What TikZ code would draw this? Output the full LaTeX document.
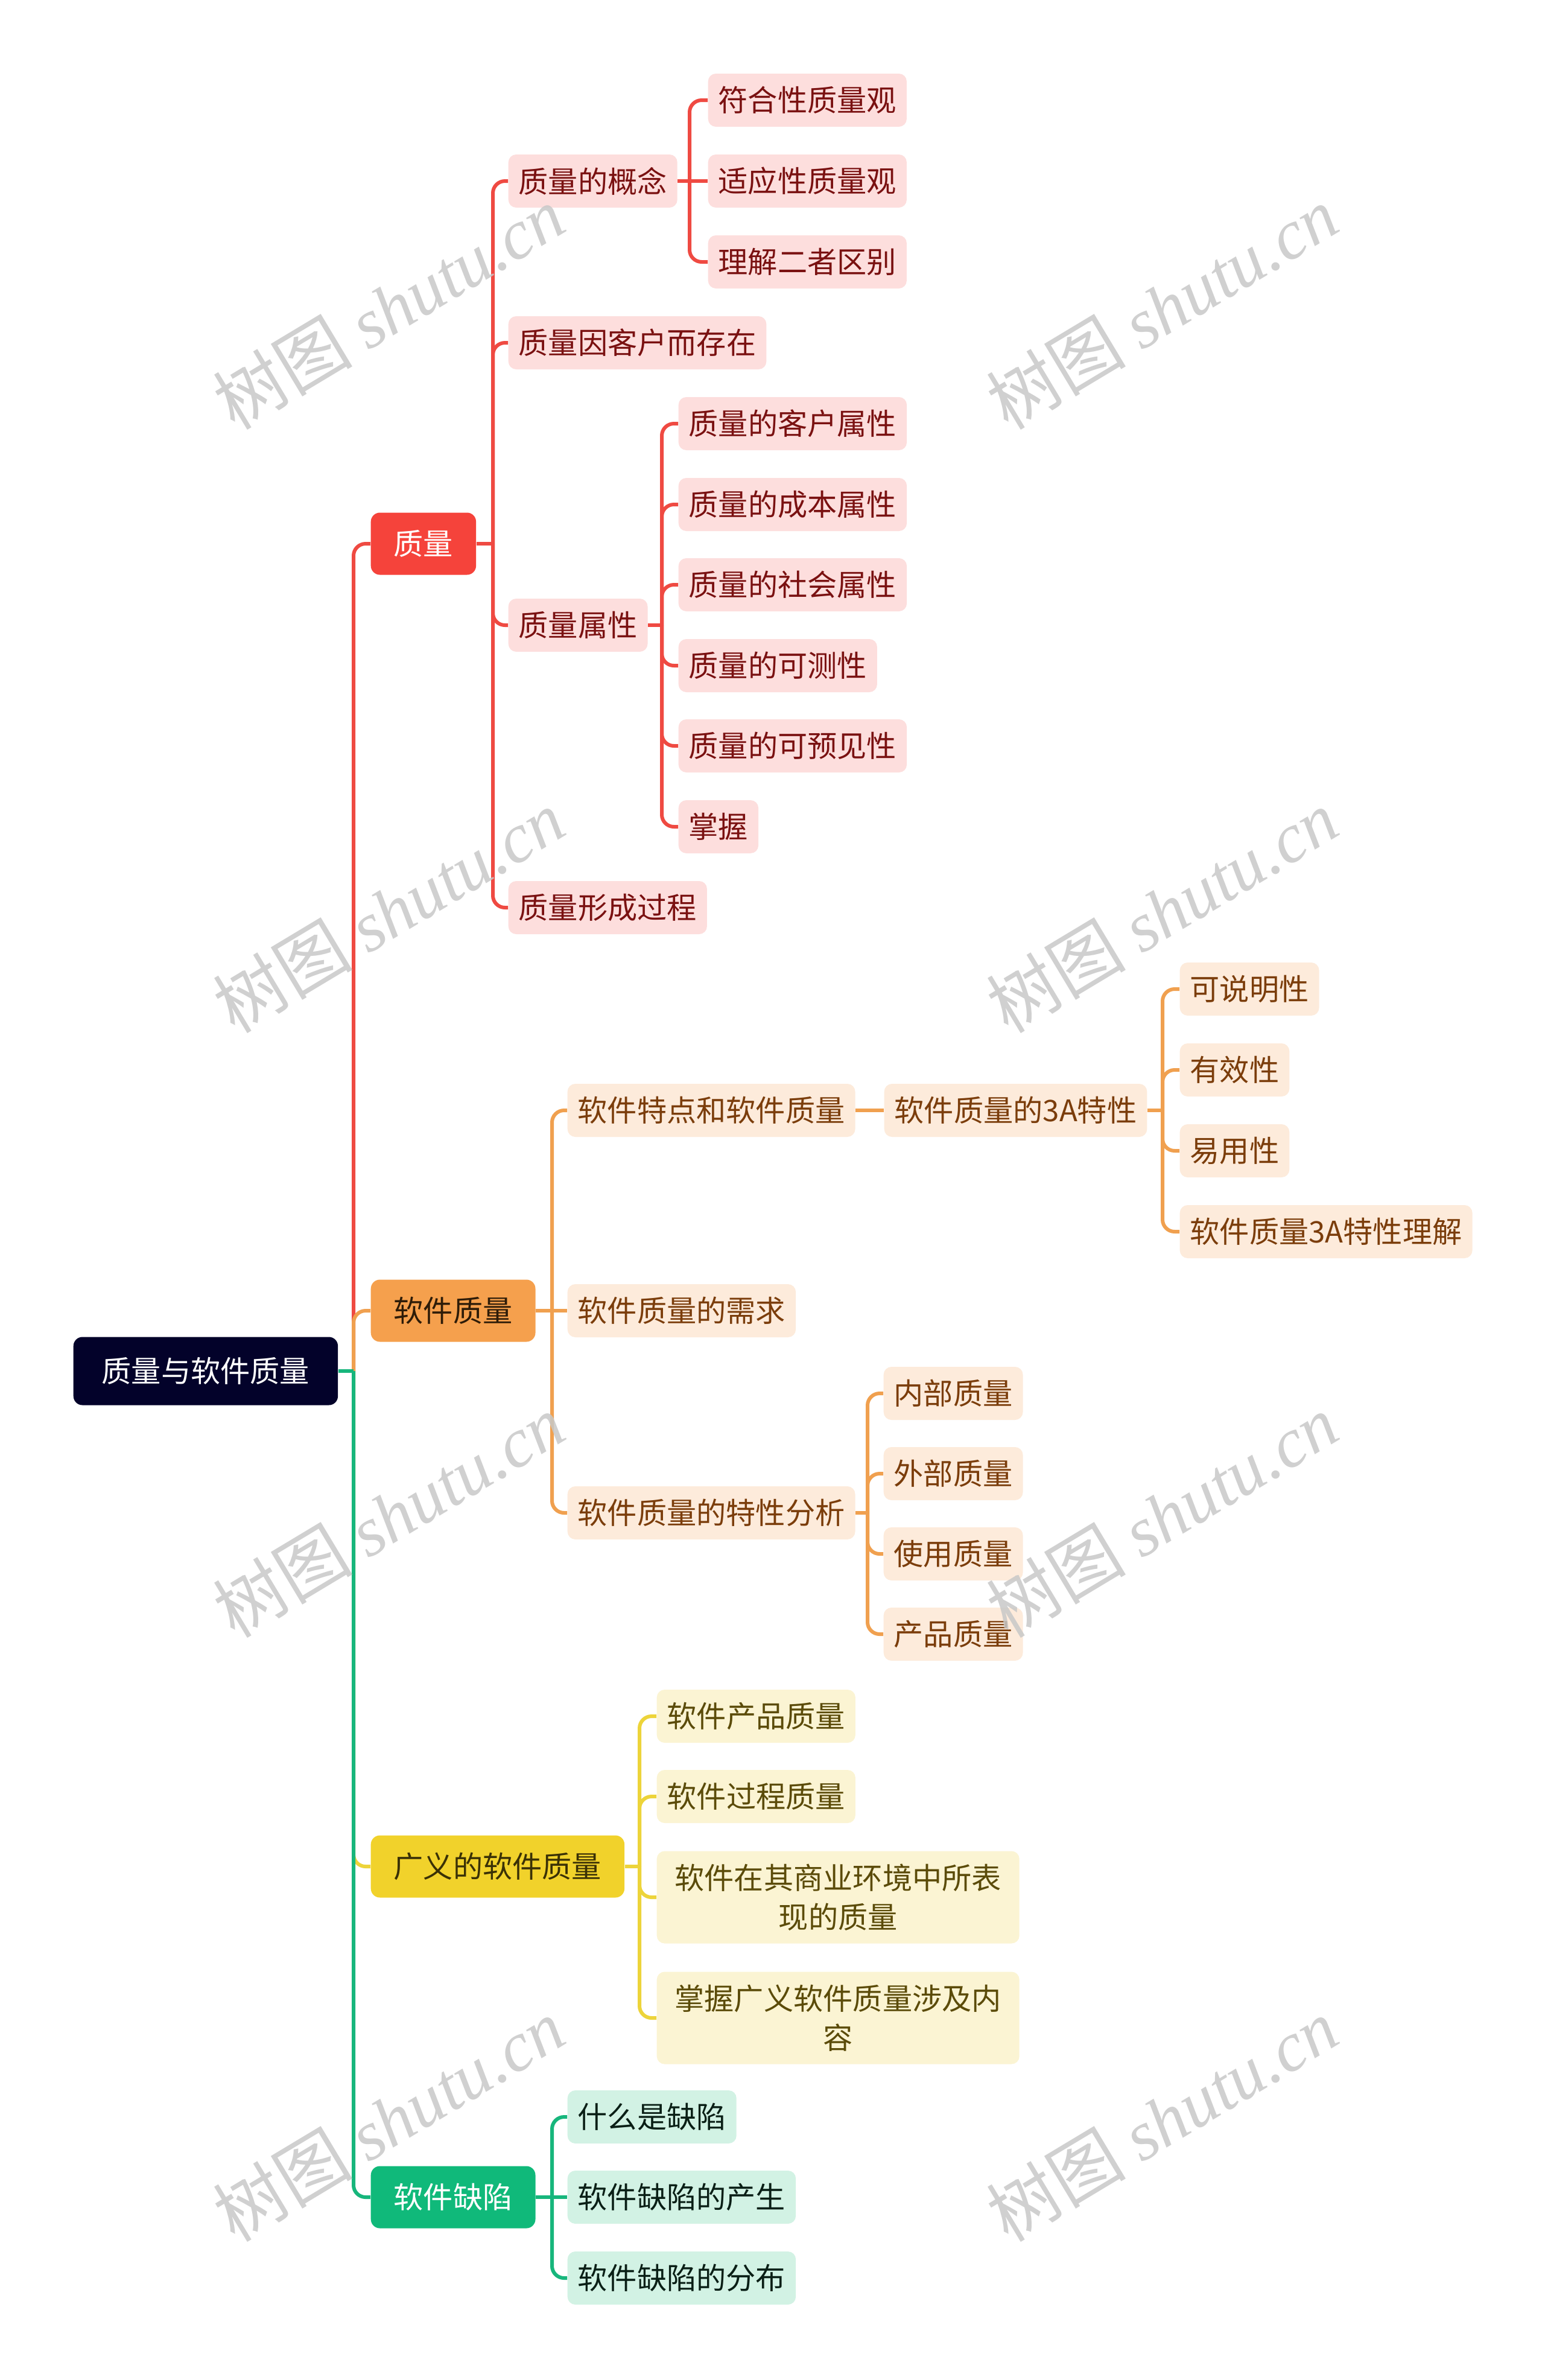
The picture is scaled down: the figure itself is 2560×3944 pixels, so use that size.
\documentclass[tikz,border=0pt]{standalone}
\usepackage{fontspec}
\setmainfont{Noto Sans CJK SC}
\newfontfamily\wmcjk{Noto Sans CJK SC}
\newfontfamily\wmlat{Liberation Serif}
\definecolor{rootc}{HTML}{03022A}
\definecolor{redc}{HTML}{F5433B}
\definecolor{redl}{HTML}{EF4A42}
\definecolor{pinkf}{HTML}{FDDEDD}
\definecolor{redt}{HTML}{7A1111}
\definecolor{orac}{HTML}{F5A04D}
\definecolor{oral}{HTML}{F0A04F}
\definecolor{oraf}{HTML}{FDEBDB}
\definecolor{orat}{HTML}{7B3D0B}
\definecolor{oradk}{HTML}{2E1C08}
\definecolor{yelc}{HTML}{F1D22B}
\definecolor{yell}{HTML}{EDD43A}
\definecolor{yelf}{HTML}{FBF4D3}
\definecolor{yelt}{HTML}{5B4B09}
\definecolor{yeldk}{HTML}{3A3106}
\definecolor{grnc}{HTML}{10B97A}
\definecolor{grnl}{HTML}{17B67C}
\definecolor{grnf}{HTML}{D2F2E4}
\definecolor{grnt}{HTML}{0A1F16}
\definecolor{wmgray}{HTML}{C8C8C8}
\begin{document}
\begin{tikzpicture}[x=0.1mm,y=-0.1mm,
  box/.style={rounded corners=1.3mm, anchor=west, font=\fontsize{14pt}{18.5pt}\selectfont, inner ysep=0pt},
  rootbox/.style={box, fill=rootc, text=white, minimum height=11.3mm, inner xsep=4.7mm, rounded corners=1.5mm},
  lone/.style={box, minimum height=10.3mm, inner xsep=3.8mm, rounded corners=1.5mm},
  ltwo/.style={box, minimum height=8.8mm, inner xsep=1.7mm},
  multi/.style={ltwo, text width=54.6mm, align=center, minimum height=15.3mm, inner xsep=2.75mm},
  redone/.style={lone, fill=redc, text=white},
  oraone/.style={lone, fill=orac, text=oradk},
  yelone/.style={lone, fill=yelc, text=yeldk},
  grnone/.style={lone, fill=grnc, text=white},
  pink/.style={fill=pinkf, text=redt},
  oral2/.style={fill=oraf, text=orat},
  yel2/.style={fill=yelf, text=yelt},
  grn2/.style={fill=grnf, text=grnt},
  link/.style={line width=0.6mm, rounded corners=2mm},
  wm/.style={rotate=31, text=wmgray, opacity=0.85, font=\fontsize{33pt}{33pt}\selectfont}
]
\useasboundingbox (0,0) rectangle (2560,3944);
\fill[white] (0,0) rectangle (2560,3944);

% root
\node[rootbox] (root) at (121,2272) {质量与软件质量};

% level 1
\node[redone] (q) at (614,901) {质量};
\node[oraone] (sq) at (614,2172) {软件质量};
\node[yelone] (gy) at (614,3093) {广义的软件质量};
\node[grnone] (qx) at (614,3641) {软件缺陷};

% quality branch
\node[ltwo,pink] (q1) at (842,300) {质量的概念};
\node[ltwo,pink] (q2) at (842,568) {质量因客户而存在};
\node[ltwo,pink] (q3) at (842,1036) {质量属性};
\node[ltwo,pink] (q4) at (842,1504) {质量形成过程};
\node[ltwo,pink] (q11) at (1173,166) {符合性质量观};
\node[ltwo,pink] (q12) at (1173,300) {适应性质量观};
\node[ltwo,pink] (q13) at (1173,434) {理解二者区别};
\node[ltwo,pink] (q31) at (1124,702) {质量的客户属性};
\node[ltwo,pink] (q32) at (1124,836) {质量的成本属性};
\node[ltwo,pink] (q33) at (1124,969) {质量的社会属性};
\node[ltwo,pink] (q34) at (1124,1103) {质量的可测性};
\node[ltwo,pink] (q35) at (1124,1236) {质量的可预见性};
\node[ltwo,pink] (q36) at (1124,1370) {掌握};

% software quality branch
\node[ltwo,oral2] (s1) at (940,1840) {软件特点和软件质量};
\node[ltwo,oral2] (s2) at (940,2172) {软件质量的需求};
\node[ltwo,oral2] (s3) at (940,2507) {软件质量的特性分析};
\node[ltwo,oral2] (s11) at (1465,1840) {软件质量的3A特性};
\node[ltwo,oral2] (a1) at (1955,1639) {可说明性};
\node[ltwo,oral2] (a2) at (1955,1773) {有效性};
\node[ltwo,oral2] (a3) at (1955,1907) {易用性};
\node[ltwo,oral2] (a4) at (1955,2041) {软件质量3A特性理解};
\node[ltwo,oral2] (b1) at (1464,2309) {内部质量};
\node[ltwo,oral2] (b2) at (1464,2442) {外部质量};
\node[ltwo,oral2] (b3) at (1464,2575) {使用质量};
\node[ltwo,oral2] (b4) at (1464,2708) {产品质量};

% broad software quality branch
\node[ltwo,yel2] (c1) at (1088,2844) {软件产品质量};
\node[ltwo,yel2] (c2) at (1088,2977) {软件过程质量};
\node[multi,yel2] (c3) at (1088,3144) {软件在其商业环境中所表\\现的质量};
\node[multi,yel2] (c4) at (1088,3344) {掌握广义软件质量涉及内\\容};

% defects branch
\node[ltwo,grn2] (d1) at (940,3508) {什么是缺陷};
\node[ltwo,grn2] (d2) at (940,3641) {软件缺陷的产生};
\node[ltwo,grn2] (d3) at (940,3775) {软件缺陷的分布};

% connectors: root
\coordinate (rv) at (586,2272);
\draw[link,redl] (rv) |- (q.west);
\draw[link,oral] (rv) |- (sq.west);
\draw[link,yell] (rv) |- (gy.west);
\draw[link,grnl] (rv) |- (qx.west);
\draw[link,grnl] (root.east) -- (rv);

% quality
\coordinate (qv) at (817,901);
\draw[link,redl] (q.east) -- (qv);
\foreach \c in {q1,q2,q3,q4} \draw[link,redl] (qv) |- (\c.west);
\coordinate (q1v) at (1143,300);
\draw[link,redl] (q1.east) -- (q12.west);
\draw[link,redl] (q1v) |- (q11.west);
\draw[link,redl] (q1v) |- (q13.west);
\coordinate (q3v) at (1097,1036);
\draw[link,redl] (q3.east) -- (q3v);
\foreach \c in {q31,q32,q33,q34,q35,q36} \draw[link,redl] (q3v) |- (\c.west);

% software quality
\coordinate (sqv) at (915,2172);
\draw[link,oral] (sq.east) -- (s2.west);
\draw[link,oral] (sqv) |- (s1.west);
\draw[link,oral] (sqv) |- (s3.west);
\draw[link,oral] (s1.east) -- (s11.west);
\coordinate (s11v) at (1927,1840);
\draw[link,oral] (s11.east) -- (s11v);
\foreach \c in {a1,a2,a3,a4} \draw[link,oral] (s11v) |- (\c.west);
\coordinate (s3v) at (1438,2507);
\draw[link,oral] (s3.east) -- (s3v);
\foreach \c in {b1,b2,b3,b4} \draw[link,oral] (s3v) |- (\c.west);

% broad
\coordinate (gyv) at (1060,3093);
\draw[link,yell] (gy.east) -- (gyv);
\foreach \c in {c1,c2,c3,c4} \draw[link,yell] (gyv) |- (\c.west);

% defects
\coordinate (qxv) at (915,3641);
\draw[link,grnl] (qx.east) -- (d2.west);
\draw[link,grnl] (qxv) |- (d1.west);
\draw[link,grnl] (qxv) |- (d3.west);

% watermarks
\foreach \px/\py in {644/510,1926/510,644/1510,1926/1510,644/2512,1926/2512,644/3513,1926/3513}
  \node[wm] at (\px,\py) {{\wmcjk 树图} {\wmlat\itshape shutu.cn}};
\end{tikzpicture}
\end{document}
